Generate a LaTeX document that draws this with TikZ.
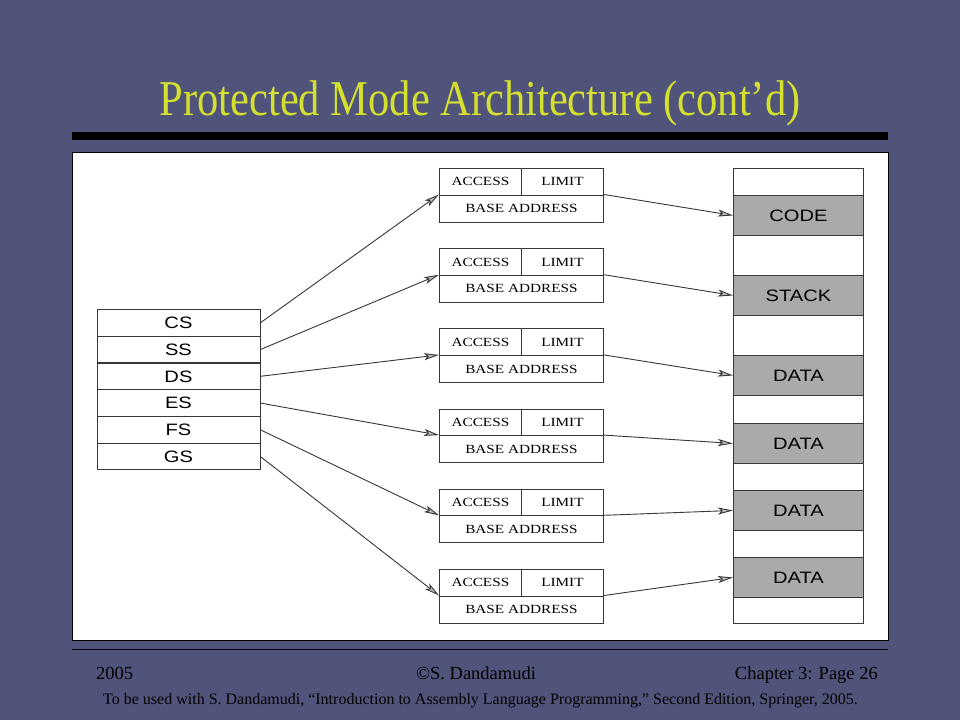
\documentclass[tikz,border=0pt]{standalone}
\usepackage{fontspec}
\usepackage{graphicx}
\setmainfont{Liberation Serif}
\setsansfont{Liberation Sans}
\usetikzlibrary{arrows.meta}
\definecolor{bg}{RGB}{81,84,122}
\definecolor{ttl}{RGB}{212,224,45}
\definecolor{seg}{RGB}{170,170,170}
\definecolor{ln}{RGB}{55,55,55}
\newcommand\sxs[1]{\scalebox{1.22}[1]{#1}}
\tikzset{
  regcell/.style={draw=ln, line width=0.9pt, fill=white, minimum width=163pt, minimum height=26.7pt, inner sep=0pt, anchor=north west, text height=11.8pt, text depth=0pt, font=\sffamily\fontsize{16.5}{18}\selectfont},
  desccell/.style={draw=ln, line width=0.9pt, fill=white, inner sep=0pt, anchor=north west, text height=8.3pt, text depth=0pt, font=\fontsize{12.5}{14}\selectfont},
  memcell/.style={draw=ln, line width=0.9pt, fill=white, minimum width=130pt, inner sep=0pt, anchor=north west, text height=11.8pt, text depth=0pt, font=\sffamily\fontsize{16.5}{18}\selectfont},
  segcell/.style={memcell, fill=seg},
  arr/.style={draw=ln, line width=0.9pt, -{Stealth[open, length=15pt, width=7pt, inset=3.5pt, fill=gray!50]}},
  foot/.style={text=black, inner sep=0pt, font=\fontsize{18.5}{20}\selectfont},
}
\begin{document}
\begin{tikzpicture}[x=1pt,y=-1pt]
\fill[bg] (0,0) rectangle (960,720);
\useasboundingbox (0,0) rectangle (960,720);
\node[text=ttl, inner sep=0pt, anchor=base, font=\fontsize{42.5}{44}\selectfont] (title) at (480,115.5) {\scalebox{1}[1.18]{Protected Mode Architecture (cont’d)}};
\fill[black] (72,132) rectangle (888,139.5);
\draw[black, line width=1pt, fill=white] (72,152.5) rectangle (888,640);
\draw[black, line width=1pt] (72,649) -- (888,649);
% registers
\foreach \n/\t [count=\i from 0] in {CS/CS,SS/SS,DS/DS,ES/ES,FS/FS,GS/GS}
  \node[regcell] (r\n) at (96.5,{309+\i*26.75}) {\sxs{\t}};
% descriptors
\foreach \i in {1,...,6}{
  \pgfmathsetmacro\tp{168+(\i-1)*80.2}
  \node[desccell, minimum width=82pt, minimum height=26.5pt] (acc\i) at (439,\tp) {\sxs{ACCESS}};
  \node[desccell, minimum width=82pt, minimum height=26.5pt] (lim\i) at (521,\tp) {\sxs{LIMIT}};
  \node[desccell, minimum width=164pt, minimum height=27pt] (base\i) at (439,\tp+26.5) {\sxs{BASE ADDRESS}};
}
% memory
\node[memcell, minimum height=27pt] (m0) at (733,168) {};
\node[segcell, minimum height=40pt] (code) at (733,195) {\sxs{CODE}};
\node[memcell, minimum height=40pt] (m1) at (733,235) {};
\node[segcell, minimum height=40pt] (stack) at (733,275) {\sxs{STACK}};
\node[memcell, minimum height=40pt] (m2) at (733,315) {};
\node[segcell, minimum height=40pt] (data1) at (733,355) {\sxs{DATA}};
\node[memcell, minimum height=28pt] (m3) at (733,395) {};
\node[segcell, minimum height=40pt] (data2) at (733,423) {\sxs{DATA}};
\node[memcell, minimum height=27pt] (m4) at (733,463) {};
\node[segcell, minimum height=40pt] (data3) at (733,490) {\sxs{DATA}};
\node[memcell, minimum height=27pt] (m5) at (733,530) {};
\node[segcell, minimum height=40pt] (data4) at (733,557) {\sxs{DATA}};
\node[memcell, minimum height=26pt] (m6) at (733,597) {};
% arrows registers -> descriptors
\draw[arr] (rCS.east) -- (base1.north west);
\draw[arr] (rSS.east) -- (base2.north west);
\draw[arr] (rDS.east) -- (base3.north west);
\draw[arr] (rES.east) -- (base4.north west);
\draw[arr] (rFS.east) -- (base5.north west);
\draw[arr] (rGS.east) -- (base6.north west);
% arrows descriptors -> memory
\draw[arr] (base1.north east) -- (code.west);
\draw[arr] (base2.north east) -- (stack.west);
\draw[arr] (base3.north east) -- (data1.west);
\draw[arr] (base4.north east) -- (data2.west);
\draw[arr] (base5.north east) -- (data3.west);
\draw[arr] (base6.north east) -- (data4.west);
% footer
\node[foot, anchor=base west] (year) at (96,679) {2005};
\node[foot, anchor=base] (copy) at (476,679) {©S. Dandamudi};
\node[foot, anchor=base east] (chap) at (878,679) {Chapter 3: Page 26};
\node[text=black, inner sep=0pt, anchor=base, font=\fontsize{16}{17}\selectfont] (note) at (480.5,704) {To be used with S. Dandamudi, “Introduction to Assembly Language Programming,” Second Edition, Springer, 2005.};
\end{tikzpicture}
\end{document}
